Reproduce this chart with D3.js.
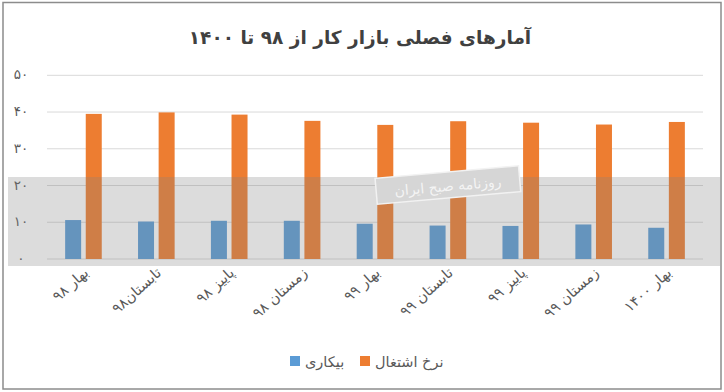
<!DOCTYPE html>
<html><head><meta charset="utf-8">
<script src="https://cdn.jsdelivr.net/npm/d3@7/dist/d3.min.js"></script>
<style>body{margin:0;background:#fff}svg{display:block;font-family:"DejaVu Sans",sans-serif}</style>
</head><body><svg id="c" width="724" height="392"></svg>
<script>
const categories = ["بهار ۹۸","تابستان۹۸","پاییز ۹۸","زمستان ۹۸","بهار ۹۹","تابستان ۹۹","پاییز ۹۹","زمستان ۹۹","بهار ۱۴۰۰"];
const unemployment = [10.6, 10.2, 10.4, 10.4, 9.6, 9.1, 9.0, 9.4, 8.5];
const employment = [39.5, 39.9, 39.3, 37.6, 36.5, 37.5, 37.1, 36.6, 37.3];
const yTicks = [0,10,20,30,40,50];
const yTickLabels = ["۰","۱۰","۲۰","۳۰","۴۰","۵۰"];
const seriesNames = ["بیکاری","نرخ اشتغال"];
const colors = ["#5b9bd5","#ed7d31"];
const title = "آمارهای فصلی بازار کار از ۹۸ تا ۱۴۰۰";

const svg = d3.select("#c");
const pL = 47, pR = 703, pT = 75.3, pB = 259;
const x = d3.scaleBand().domain(categories).range([pL,pR]).paddingInner(0).paddingOuter(0);
const y = d3.scaleLinear().domain([0,50]).range([pB,pT]);
const barW = 16, gap = 4.6;

// border
svg.append("rect").attr("x",3).attr("y",2.5).attr("width",718).attr("height",386.5)
  .attr("fill","#fff").attr("stroke","#8c8c8c").attr("stroke-width",1.5);

// title
svg.append("text").attr("x",360).attr("y",44).attr("text-anchor","middle").attr("direction","rtl")
  .attr("font-size",18.5).attr("font-weight","bold").attr("fill","#404040").text(title);

// grid
svg.append("g").selectAll("line").data(yTicks).join("line")
  .attr("x1",pL).attr("x2",pR).attr("y1",d=>y(d)).attr("y2",d=>y(d))
  .attr("stroke","#d9d9d9").attr("stroke-width",1);
svg.append("g").selectAll("text").data(yTicks).join("text")
  .attr("x",21).attr("y",d=>y(d)+4).attr("text-anchor","middle")
  .attr("font-size",13.5).attr("fill","#595959").text((d,i)=>yTickLabels[i]);

// bars
const g = svg.append("g");
categories.forEach((c,i)=>{
  const cx = x(c) + x.bandwidth()/2;
  [unemployment[i], employment[i]].forEach((v,j)=>{
    const bx = j===0 ? cx - gap/2 - barW : cx + gap/2;
    g.append("rect").attr("x",bx).attr("y",y(v)).attr("width",barW).attr("height",y(0)-y(v)).attr("fill",colors[j]);
  });
});

// x labels
svg.append("g").selectAll("text").data(categories).join("text")
  .attr("transform",d=>`translate(${x(d)+x.bandwidth()/2+6},${274}) rotate(-42)`)
  .attr("text-anchor","end").attr("font-size",14.5).attr("fill","#595959").text(d=>d);

// watermark band
svg.append("rect").attr("x",8).attr("y",177).attr("width",712).attr("height",89)
  .attr("fill","rgb(128,128,128)").attr("fill-opacity",0.28);
const wm = svg.append("g").attr("transform","translate(448,186) rotate(-5)");
wm.append("rect").attr("x",-72).attr("y",-14).attr("width",144).attr("height",26)
  .attr("fill","#d6d6d6").attr("stroke","#f2f2f2").attr("stroke-width",1.5);
wm.append("text").attr("x",0).attr("y",5).attr("text-anchor","middle").attr("direction","rtl")
  .attr("font-size",14).attr("fill","#f4f4f4").text("روزنامه صبح ایران");

// legend
const lg = svg.append("g");
[[290,305],[360,375]].forEach((p,j)=>{
  lg.append("rect").attr("x",p[0]).attr("y",356).attr("width",10).attr("height",10).attr("fill",colors[j]);
  lg.append("text").attr("x",p[1]).attr("y",367).attr("font-size",14.5).attr("fill","#595959").text(seriesNames[j]);
});
</script></body></html>
